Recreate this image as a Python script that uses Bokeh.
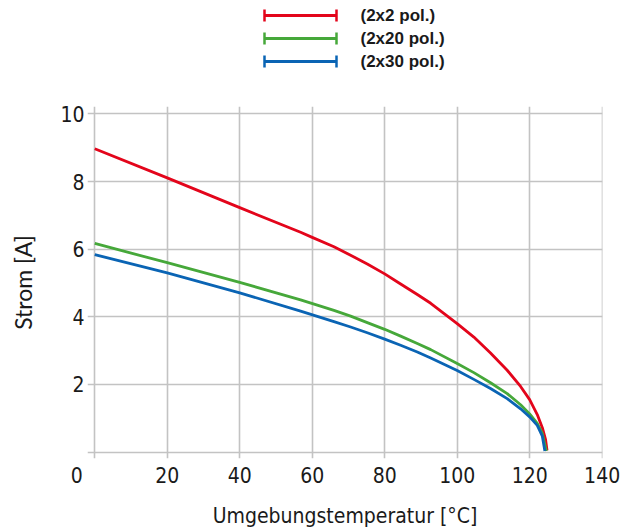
from bokeh.plotting import figure
from bokeh.layouts import column
from bokeh.models import Range1d, FixedTicker
from bokeh.core.properties import value
from bokeh.embed import file_html
from bokeh.resources import INLINE

# ---- data ----
series_names = ["(2x2 pol.)", "(2x20 pol.)", "(2x30 pol.)"]
series_colors = ["#e3051b", "#46a83a", "#0a64b4"]

temp_2x2 = [0, 20, 40, 56.8, 60, 66.0, 70.6, 75.2, 80, 84.4, 89.0, 92.7, 100, 104.6, 109.2, 113.8, 117.5, 120, 122.1, 123.5, 124.4, 124.8]
strom_2x2 = [8.97, 8.11, 7.23, 6.50, 6.35, 6.07, 5.82, 5.56, 5.27, 4.97, 4.66, 4.40, 3.80, 3.40, 2.93, 2.42, 1.94, 1.55, 1.11, 0.72, 0.37, 0.05]

temp_2x20 = [0, 20, 40, 56.8, 66, 70.6, 75.2, 80, 84.4, 89, 92.7, 100, 104.6, 109.2, 113.8, 117.5, 120, 122.1, 123.5, 124.6]
strom_2x20 = [6.17, 5.60, 5.02, 4.50, 4.19, 4.02, 3.83, 3.63, 3.43, 3.21, 3.03, 2.62, 2.35, 2.05, 1.73, 1.40, 1.13, 0.85, 0.55, 0.03]

temp_2x30 = [0, 20, 40, 56.8, 66, 70.6, 75.2, 80, 84.4, 89, 92.7, 100, 104.6, 109.2, 113.8, 117.5, 120, 122.1, 123.5, 124.2]
strom_2x30 = [5.84, 5.30, 4.71, 4.17, 3.86, 3.70, 3.53, 3.34, 3.16, 2.96, 2.78, 2.41, 2.15, 1.88, 1.58, 1.28, 1.04, 0.79, 0.47, 0.03]

x_ticks = [0, 20, 40, 60, 80, 100, 120, 140]
y_ticks = [0, 2, 4, 6, 8, 10]

x_title = "Umgebungstemperatur [°C]"
y_title = "Strom [A]"

TICK_FONT = "DejaVu Sans Condensed"
TEXT_COLOR = "#1a1a1a"
W, H = 633, 530
FRAME_L, FRAME_R = 87, 602      # pixel columns of the plot frame (shared by both strips)

# ---------------- legend strip (pixel coordinates) ----------------
LH = 92
leg = figure(width=W, height=LH, output_backend="svg", toolbar_location=None,
             x_range=Range1d(FRAME_L, FRAME_R), y_range=Range1d(LH, 0),
             min_border_left=FRAME_L, min_border_right=W - FRAME_R,
             min_border_top=0, min_border_bottom=0)
leg.axis.visible = False
leg.grid.visible = False
leg.outline_line_color = None

n = len(series_names)
row_y = [15 + 23 * i for i in range(n)]
lx0, lx1, cap = 264, 336, 6
leg.segment(x0=[lx0] * n, x1=[lx1] * n, y0=row_y, y1=row_y, line_color=series_colors, line_width=3)
leg.segment(x0=[lx0] * n, x1=[lx0] * n, y0=[y - cap for y in row_y], y1=[y + cap for y in row_y],
            line_color=series_colors, line_width=2.5)
leg.segment(x0=[lx1] * n, x1=[lx1] * n, y0=[y - cap for y in row_y], y1=[y + cap for y in row_y],
            line_color=series_colors, line_width=2.5)
leg.text(x=[360] * n, y=row_y, text=series_names, text_baseline="middle",
         text_font=value("Liberation Sans"), text_font_style="bold",
         text_font_size="17px", text_color=TEXT_COLOR)

# ---------------- main chart ----------------
p = figure(width=W, height=H - LH, output_backend="svg", toolbar_location=None,
           x_range=Range1d(-2, 140.1), y_range=Range1d(-0.19, 10.22),
           min_border_left=FRAME_L, min_border_right=W - FRAME_R,
           min_border_top=106 - LH, min_border_bottom=71)
p.outline_line_color = None

for xs, ys, c in [(temp_2x2, strom_2x2, series_colors[0]),
                  (temp_2x20, strom_2x20, series_colors[1]),
                  (temp_2x30, strom_2x30, series_colors[2])]:
    p.line(xs, ys, line_color=c, line_width=2.8, line_join="round")

p.xaxis.ticker = FixedTicker(ticks=x_ticks)
p.yaxis.ticker = FixedTicker(ticks=y_ticks)
# the origin "0" sits left of the x=0 gridline in the reference (padded with no-break spaces)
p.xaxis.major_label_overrides = {0: "0" + "\u00a0" * 6}
p.yaxis.major_label_overrides = {0: ""}

for ax in (p.xaxis[0], p.yaxis[0]):
    ax.axis_line_color = None
    ax.major_tick_line_color = None
    ax.minor_tick_line_color = None
    ax.major_tick_out = 0
    ax.major_tick_in = 0
    ax.minor_tick_out = 0
    ax.minor_tick_in = 0
    ax.major_label_text_font = TICK_FONT
    ax.major_label_text_font_size = "21px"
    ax.major_label_text_color = TEXT_COLOR
    ax.axis_label_text_font_style = "normal"
    ax.axis_label_text_color = TEXT_COLOR

p.xaxis.axis_label = x_title
p.xaxis.axis_label_text_font = TICK_FONT
p.xaxis.axis_label_text_font_size = "21px"
p.xaxis.major_label_standoff = 5
p.xaxis.axis_label_standoff = 13

p.yaxis.axis_label = y_title
p.yaxis.axis_label_text_font = "Lato"
p.yaxis.axis_label_text_font_size = "23px"
p.yaxis.major_label_standoff = 3
p.yaxis.axis_label_standoff = 20

for g in (p.xgrid[0], p.ygrid[0]):
    g.grid_line_color = "#c3c3c3"
    g.grid_line_width = 1.6
p.xgrid.ticker = FixedTicker(ticks=x_ticks)
p.ygrid.ticker = FixedTicker(ticks=y_ticks)

layout = column(leg, p, spacing=0)
open("out.html", "w").write(file_html(layout, INLINE))
